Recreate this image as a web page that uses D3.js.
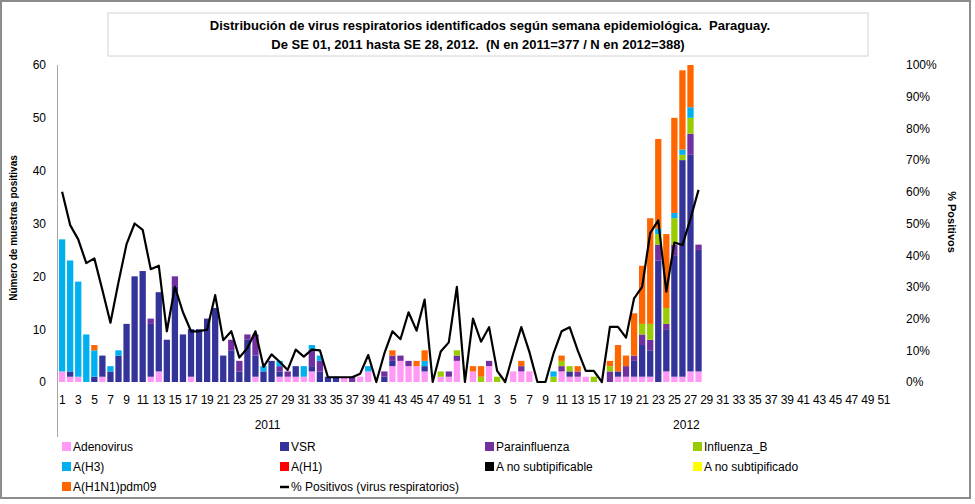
<!DOCTYPE html>
<html>
<head>
<meta charset="utf-8">
<script src="https://cdn.jsdelivr.net/npm/d3@7"></script>
<style>
  body { margin: 0; background: #fff; }
  text { font-family: "Liberation Sans", Arial, sans-serif; }
  .pre { white-space: pre; }
</style>
</head>
<body>
<svg id="chart" width="975" height="504"></svg>
<script>
// semanas epidemiológicas: 2011 (1-52) y 2012 (1-52), datos hasta SE 28 de 2012
const years = ["2011", "2012"];
const weeks = d3.range(1, 53);

// casos por semana (2011 SE1-52, luego 2012 SE1-28)
const adenovirus = [
  2,1,1,0,0,1,0,0,0,0,0,1,2,0,0,0,1,0,0,0,0,0,0,0,1,0,0,1,1,1,1,2,0,0,0,1,0,1,2,0,0,3,4,3,3,2,0,1,1,4,0,2,
  0,3,0,0,2,2,2,0,0,0,2,1,1,1,0,0,0,1,1,1,1,1,0,2,1,1,2,2
];
const vsr = [
  0,1,0,0,1,4,2,5,11,20,21,10,15,8,18,9,9,10,12,14,5,6,2,8,4,2,4,1,0,2,0,1,2,1,1,0,0,0,0,0,1,1,0,0,0,1,0,0,0,0,0,0,
  0,0,0,0,0,0,0,0,0,0,0,1,0,0,0,0,0,1,0,3,6,5,23,8,23,41,41,23
];
const parainfluenza = [
  0,0,0,0,0,0,0,0,0,0,0,1,0,0,2,0,0,0,0,0,0,2,2,1,4,0,0,1,1,0,0,3,2,0,0,0,1,0,0,0,1,1,1,1,0,0,0,0,1,1,0,0,
  0,1,0,0,0,1,0,0,0,0,1,0,1,0,0,0,2,0,2,1,2,2,3,1,2,0,4,1
];
const influenzaB = [
  0,0,0,0,0,0,0,0,0,0,0,0,0,0,0,0,0,0,0,0,0,0,0,0,0,0,0,0,0,0,0,0,0,0,0,0,0,0,0,0,0,0,0,0,0,0,0,1,0,1,0,0,
  1,0,1,0,0,0,0,0,0,1,1,1,0,0,1,0,1,0,0,0,2,3,2,3,5,1,3,0
];
const aH3 = [
  25,21,18,9,5,0,1,1,0,0,0,0,0,0,0,0,0,0,0,0,0,0,0,0,0,1,0,1,0,0,2,1,1,0,0,0,0,0,1,0,0,0,0,0,0,1,0,0,0,0,0,0,
  0,0,0,0,0,0,0,0,0,1,0,0,0,0,0,0,0,0,0,0,0,0,1,0,1,1,2,0
];
const aH1 = new Array(80).fill(0);
const aNoSubtipificable = new Array(80).fill(0);
const aNoSubtipificado = new Array(80).fill(0);
const aH1N1pdm09 = [
  0,0,0,0,1,0,0,0,0,0,0,0,0,0,0,0,0,0,0,0,0,0,0,0,0,0,0,0,0,0,0,0,0,0,0,0,0,0,0,0,0,1,0,0,1,2,0,0,0,0,0,1,
  2,0,0,0,0,1,0,0,0,0,1,0,1,0,0,0,1,5,2,8,11,20,17,14,18,15,8,0
];
// % de positivos (virus respiratorios)
const pctPositivos = [
  60,49.5,45,37.5,39,29,18.7,31.5,43.5,50,48,35.6,36.7,16,30,22,16,16,16.5,27.4,13.2,16,7.7,10.7,16,4.8,8.7,6.4,3.8,10.2,8,10.2,10,1.5,1.5,1.5,1.5,2.6,8.5,0,9,16,13.5,22,16.2,26,0,9.6,12.5,30,0,20,
  12.7,17.3,3.5,0,9,17.3,9.5,0,0,9,16,17.3,10,3.5,3.5,0,17.4,17.4,14,26.4,30,47,51,28.5,44,43.2,51.5,60.6
];

const seriesNames = ["Adenovirus","VSR","Parainfluenza","Influenza_B","A(H3)","A(H1)","A no subtipificable","A no subtipificado","A(H1N1)pdm09"];
const seriesValues = [adenovirus, vsr, parainfluenza, influenzaB, aH3, aH1, aNoSubtipificable, aNoSubtipificado, aH1N1pdm09];
const seriesColors = ["#ff99f5","#333399","#7030a0","#99cc00","#00b0f0","#ff0000","#000000","#ffff00","#ff6600"];
const lineName = "% Positivos (virus respiratorios)";

const yTicks = [0,10,20,30,40,50,60];
const pctTicks = [0,10,20,30,40,50,60,70,80,90,100];

// tabla por semana
const cats = years.flatMap(y => weeks.map(w => y + "-" + w));
const table = cats.map((c, i) => {
  const row = { key: c, week: +c.split("-")[1] };
  seriesNames.forEach((n, j) => row[n] = seriesValues[j][i] || 0);
  row.pct = i < pctPositivos.length ? pctPositivos[i] : null;
  return row;
});

const svg = d3.select("#chart");

// marco exterior
svg.append("rect").attr("x", 1).attr("y", 1).attr("width", 969).attr("height", 497)
  .attr("fill", "#fff").attr("stroke", "#8c8c8c").attr("stroke-width", 2);

// título
svg.append("rect").attr("x", 108).attr("y", 13).attr("width", 760).attr("height", 43)
  .attr("fill", "#fff").attr("stroke", "#d4d4d4").attr("stroke-width", 1);
svg.append("text").attr("class", "pre").attr("x", 490).attr("y", 30).attr("text-anchor", "middle")
  .attr("font-size", 13).attr("font-weight", "bold")
  .text("Distribución de virus respiratorios identificados según semana epidemiológica.  Paraguay.");
svg.append("text").attr("class", "pre").attr("x", 478).attr("y", 49).attr("text-anchor", "middle")
  .attr("font-size", 13).attr("font-weight", "bold")
  .text("De SE 01, 2011 hasta SE 28, 2012.  (N en 2011=377 / N en 2012=388)");

// escalas
const x = d3.scaleBand().domain(cats).range([58, 896]).paddingInner(0.22).paddingOuter(0.12);
const y = d3.scaleLinear().domain([0, 60]).range([382, 65]);
const yPct = d3.scaleLinear().domain([0, 100]).range([382, 65]);

// barras apiladas
const stack = d3.stack().keys(seriesNames)(table);
svg.append("g").selectAll("g").data(stack).join("g")
  .attr("fill", (d, i) => seriesColors[i])
  .selectAll("rect").data(d => d.filter(s => s[1] > s[0])).join("rect")
  .attr("x", d => x(d.data.key))
  .attr("width", x.bandwidth())
  .attr("y", d => y(d[1]))
  .attr("height", d => y(d[0]) - y(d[1]));

// línea % positivos
const line = d3.line()
  .defined(d => d.pct !== null)
  .x(d => x(d.key) + x.bandwidth() / 2)
  .y(d => yPct(d.pct));
svg.append("path").datum(table).attr("d", line)
  .attr("fill", "none").attr("stroke", "#000").attr("stroke-width", 2.2)
  .attr("stroke-linejoin", "round");

// eje izquierdo
svg.append("line").attr("x1", 57.5).attr("x2", 57.5).attr("y1", 65).attr("y2", 437)
  .attr("stroke", "#a6a6a6");
const yAxis = svg.append("g").attr("transform", "translate(57,0)")
  .call(d3.axisLeft(y).tickValues(yTicks).tickSize(0).tickPadding(11));
yAxis.select(".domain").remove();
yAxis.selectAll("text").attr("font-size", 12).attr("font-family", "Liberation Sans, Arial").attr("fill", "#000");

// eje derecho
const rAxis = svg.append("g").attr("transform", "translate(900,0)")
  .call(d3.axisRight(yPct).tickValues(pctTicks).tickSize(0).tickPadding(6).tickFormat(d => d + "%"));
rAxis.select(".domain").remove();
rAxis.selectAll("text").attr("font-size", 12).attr("font-family", "Liberation Sans, Arial").attr("fill", "#000");

// eje x: semanas impares
const xAxis = svg.append("g").attr("transform", "translate(0,382)")
  .call(d3.axisBottom(x).tickValues(cats.filter(c => +c.split("-")[1] % 2 === 1))
    .tickFormat(c => c.split("-")[1]).tickSize(0).tickPadding(13));
xAxis.select(".domain").remove();
xAxis.selectAll("text").attr("font-size", 12).attr("font-family", "Liberation Sans, Arial").attr("fill", "#000")
  .attr("letter-spacing", -0.3);

// años
years.forEach(yr => {
  const ks = cats.filter(c => c.startsWith(yr));
  const cx = (x(ks[0]) + x(ks[ks.length - 1]) + x.bandwidth()) / 2;
  svg.append("text").attr("x", cx).attr("y", 429).attr("text-anchor", "middle")
    .attr("font-size", 12).text(yr);
});

// títulos de ejes
svg.append("text").attr("transform", "translate(17,228) rotate(-90)")
  .attr("text-anchor", "middle").attr("font-size", 10).attr("font-weight", "bold")
  .text("Número de muestras positivas");
svg.append("text").attr("transform", "translate(948,222) rotate(90)")
  .attr("text-anchor", "middle").attr("font-size", 11).attr("font-weight", "bold")
  .text("% Positivos");

// leyenda
const legendItems = seriesNames.map((n, i) => ({ name: n, color: seriesColors[i], type: "box" }))
  .concat([{ name: lineName, color: "#000", type: "line" }]);
const colX = [62, 280, 485, 693];
const rowY = [447, 467, 487];
const lg = svg.append("g").selectAll("g").data(legendItems).join("g")
  .attr("transform", (d, i) => `translate(${colX[i % 4]},${rowY[Math.floor(i / 4)]})`);
lg.filter(d => d.type === "box").append("rect")
  .attr("x", 0).attr("y", -5).attr("width", 9).attr("height", 9).attr("fill", d => d.color);
lg.filter(d => d.type === "line").append("line")
  .attr("x1", 0).attr("x2", 9).attr("y1", 0).attr("y2", 0).attr("stroke", "#000").attr("stroke-width", 2.5);
lg.append("text").attr("x", 11).attr("y", 4).attr("font-size", 12).text(d => d.name);
</script>
</body>
</html>
